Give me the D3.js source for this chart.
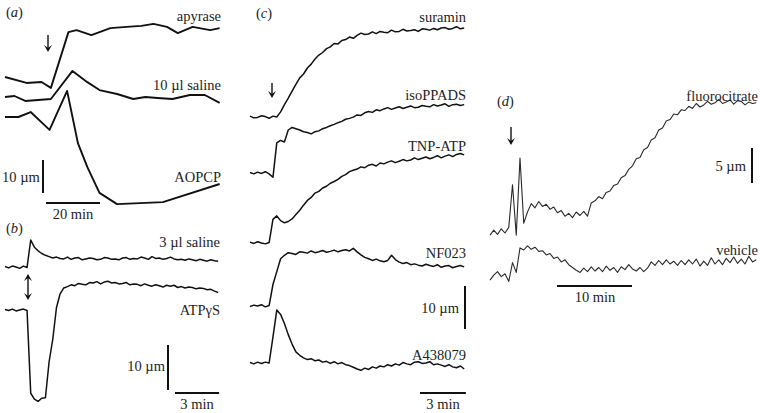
<!DOCTYPE html>
<html><head><meta charset="utf-8">
<script src="https://cdn.jsdelivr.net/npm/d3@7"></script>
<style>
body{margin:0;background:#fff}
text{font-family:"Liberation Serif","Times New Roman",serif;font-size:14.5px;fill:#1e1e1e}
</style>
</head><body>
<svg id="chart" width="760" height="413"></svg>
<script>
// ---------------- DATA ----------------
// Panel (a): time (min) and diameter change (µm), sparse samples
const aApyraseT = [0, 8, 13.5, 17, 23.5, 26.5, 32, 39, 45, 50.5, 55, 60, 64, 69.5, 76, 79.5];
const aApyraseV = [0, -1.8, -1.5, -3.3, 13.6, 14.2, 12.7, 14.8, 15.2, 15.5, 16.1, 15.2, 13.3, 15.2, 14.2, 14.8];
const aSalineT = [0, 3.5, 7.5, 17, 25, 30.5, 35, 41.5, 47.5, 52, 56.5, 62, 68.5, 74, 79.5];
const aSalineV = [0, 0.3, -1.2, -0.6, 7.9, 4.5, 2.1, 0.9, -0.6, 0, -0.3, -0.6, 0.6, 0.6, -1.8];
const aAopcpT = [0, 5, 9.5, 16.5, 23, 27, 30.5, 35, 41.5, 58.5, 79.5];
const aAopcpV = [0, 0, 1.5, -3.9, 7.9, -7.9, -15.2, -23.0, -26.4, -25.8, -20.3];

// Panel (b): sampled every 0.25 min (µm)
const bStep = 0.25;
const bSaline3 = [0.1,-0.2,0.2,0.0,-0.3,0.2,-0.1,6.0,4.4,3.6,3.0,2.6,2.3,2.0,2.2,1.9,1.8,2.2,1.7,2.0,2.1,1.6,1.8,2.0,1.9,1.6,1.7,2.1,2.0,1.7,1.8,1.6,2.0,2.1,1.7,1.9,1.8,2.2,2.0,1.7,2.3,1.9,2.0,1.7,1.9,2.2,1.8,1.6,1.7,1.5,1.8,1.6,1.4,1.7,1.5,1.3,1.6,1.4,1.3];
const bATPgS = [0.1,-0.1,0.2,-0.2,0.0,0.2,-0.1,-18.5,-19.8,-20.3,-19.6,-19.5,-11.5,-6.5,0.5,3.6,4.9,5.2,5.6,5.4,5.9,5.7,5.6,6.1,6.0,6.3,5.8,6.2,6.4,6.0,6.1,5.8,5.9,6.1,5.6,5.8,5.7,5.4,5.8,5.5,5.3,5.6,5.4,5.1,5.5,5.3,5.5,5.0,5.2,4.9,5.1,5.0,4.7,4.9,4.8,4.5,4.6,4.2,3.9];

// Panel (c): sampled every 0.25 min (µm)
const cStep = 0.25;
const cSuramin = [0.2,-0.2,-0.1,0.3,0.1,-0.3,0.2,0.0,1.2,2.9,4.4,6.0,7.6,9.1,10.0,11.4,12.3,13.5,14.4,15.0,15.9,16.3,17.1,17.0,17.8,18.0,18.6,18.3,19.0,19.5,19.2,19.3,19.8,19.4,19.9,19.7,19.6,20.2,19.8,19.9,20.4,20.0,20.1,20.3,19.9,20.5,20.4,20.2,20.6,20.3,20.7,20.8,20.4,20.6,21.0,20.5,20.7];
const cIsoPPADS = [0.1,-0.2,0.2,-0.1,0.3,-0.2,-1.0,7.0,7.6,7.2,10.0,10.6,10.3,10.0,9.6,9.4,9.1,9.6,9.8,10.3,10.6,11.0,11.3,11.7,12.0,12.5,12.7,13.0,13.5,13.4,14.0,14.3,14.1,14.7,14.5,14.9,15.2,14.8,15.1,15.4,15.0,15.3,15.6,15.2,15.3,15.7,15.5,15.4,15.9,15.6,15.8,16.1,15.5,15.9,16.0,15.7,15.9];
const cTNPATP = [0.2,-0.1,0.3,0.0,-0.2,0.1,5.5,6.3,5.2,4.7,5.0,5.6,6.6,7.6,8.8,9.9,10.6,11.6,12.0,12.8,13.2,13.9,14.3,14.8,15.5,15.9,16.6,16.9,17.2,17.7,17.5,18.1,18.3,17.9,18.6,18.4,18.8,19.1,18.7,19.0,19.4,19.1,19.3,19.8,19.4,19.7,20.0,19.6,19.9,20.3,19.8,20.2,20.5,20.1,20.6,20.8,20.5];
const cNF023 = [-0.1,0.2,0.0,0.3,-0.2,0.1,5.0,8.0,11.0,11.8,12.4,12.2,12.0,12.6,12.5,12.3,12.8,12.4,12.6,12.9,12.5,12.7,13.0,12.6,12.9,13.1,12.8,13.4,12.6,11.9,11.3,11.0,10.6,10.9,10.5,10.3,10.6,11.8,10.8,10.2,9.9,10.1,9.6,9.8,9.5,9.3,9.7,9.4,9.2,9.6,9.0,9.3,9.4,8.9,9.2,9.4,9.1];
const cA438079 = [0.1,-0.2,0.2,-0.1,0.2,0.0,6.0,12.3,11.3,9.2,6.6,4.4,2.6,1.8,1.2,0.8,1.0,0.5,0.7,0.2,0.4,-0.1,0.3,-0.2,0.1,-0.4,-0.6,-1.0,-1.4,-1.7,-1.2,-1.5,-0.9,-1.2,-0.7,-0.9,-0.4,-0.7,-0.2,-0.5,0.1,-0.2,-0.4,0.2,0.3,-0.1,0.0,0.3,-0.4,-0.2,-0.5,-0.8,-0.4,-0.9,-1.1,-0.7,-1.4];

// Panel (d): sampled every 0.5 min (µm)
const dStep = 0.5;
const dFluorocitrate = [-0.3,0.4,-0.2,0.6,0.0,0.8,6.9,-0.3,10.7,1.4,3.0,4.2,3.6,4.5,3.8,4.1,3.4,3.7,2.9,3.2,2.4,2.8,2.2,3.0,2.5,3.1,2.4,4.3,4.6,5.2,4.9,5.8,6.0,6.8,7.0,7.9,8.2,9.1,9.6,10.6,10.8,11.9,12.2,13.3,13.6,14.7,15.0,16.0,16.2,17.0,16.9,17.6,17.5,18.1,17.8,18.5,18.0,18.3,18.8,18.4,18.6,19.1,18.5,18.7,19.0,18.4,18.9,18.8,18.3,18.7,18.5,18.6];
const dVehicle = [-0.3,0.4,0.9,0.2,0.6,-0.5,2.2,0.8,4.3,4.0,4.6,4.1,4.4,3.8,3.9,3.3,3.5,2.8,3.0,2.3,2.6,1.9,1.5,1.1,0.8,1.4,0.9,1.6,1.0,1.5,0.9,1.7,1.1,1.5,0.8,1.6,1.2,1.9,1.3,1.0,1.5,0.9,1.4,2.3,1.8,2.5,1.9,2.6,2.0,2.4,1.8,2.5,1.9,2.6,2.0,2.7,1.7,2.4,1.8,2.9,2.0,2.6,1.9,2.8,2.2,3.0,2.1,2.7,2.0,3.1,2.3,2.6];

// scale-bar values
const scaleBars = {
  a: {um: 10, min: 20, umLabel: "10 µm", minLabel: "20 min"},
  b: {um: 10, min: 3, umLabel: "10 µm", minLabel: "3 min"},
  c: {um: 10, min: 3, umLabel: "10 µm", minLabel: "3 min"},
  d: {um: 5, min: 10, umLabel: "5 µm", minLabel: "10 min"}
};

// ---------------- LAYOUT ----------------
const svg = d3.select("#chart");
const panels = {
  a: {x0: 5, ppm: 2.7, ppu: 3.3, T: 80},
  b: {x0: 5, ppm: 14.7, ppu: 4.5, T: 14.5},
  c: {x0: 250, ppm: 15.3, ppu: 4.3, T: 14},
  d: {x0: 490, ppm: 7.5, ppu: 7.0, T: 35.5}
};
Object.values(panels).forEach(p => {
  p.x = d3.scaleLinear().domain([0, p.T]).range([p.x0, p.x0 + p.T * p.ppm]);
  p.yFor = base => d3.scaleLinear().domain([0, 10]).range([base, base - 10 * p.ppu]);
});

function trace(p, base, times, vals, opt) {
  const y = p.yFor(base);
  const pts = vals.map((v, i) => [times ? times[i] : i * opt.step, v]);
  svg.append("path")
    .attr("d", d3.line().x(d => p.x(d[0])).y(d => y(d[1]))(pts))
    .attr("fill", "none")
    .attr("stroke", opt.color || "#111")
    .attr("stroke-width", opt.width || 1.5)
    .attr("stroke-linejoin", "round");
}

function label(x, y, txt, anchor) {
  svg.append("text").attr("x", x).attr("y", y).attr("text-anchor", anchor || "end").text(txt);
}
function panelLabel(x, y, letter) {
  const t = svg.append("text").attr("x", x).attr("y", y);
  t.append("tspan").text("(");
  t.append("tspan").attr("font-style", "italic").text(letter);
  t.append("tspan").text(")");
}
function downArrow(x, y1, y2) {
  svg.append("line").attr("x1", x).attr("x2", x).attr("y1", y1).attr("y2", y2 - 4)
    .attr("stroke", "#111").attr("stroke-width", 1.4);
  svg.append("path").attr("d", `M${x-4},${y2-7} L${x},${y2} L${x+4},${y2-7} L${x},${y2-4}Z`).attr("fill", "#111");
}
function doubleArrow(x, y1, y2) {
  svg.append("line").attr("x1", x).attr("x2", x).attr("y1", y1 + 4).attr("y2", y2 - 4)
    .attr("stroke", "#111").attr("stroke-width", 1.4);
  svg.append("path").attr("d", `M${x-4},${y2-7} L${x},${y2} L${x+4},${y2-7} L${x},${y2-4}Z`).attr("fill", "#111");
  svg.append("path").attr("d", `M${x-4},${y1+7} L${x},${y1} L${x+4},${y1+7} L${x},${y1+4}Z`).attr("fill", "#111");
}
function vBar(p, x, yBottom, um) {
  const y = p.yFor(yBottom);
  svg.append("line").attr("x1", x).attr("x2", x).attr("y1", y(0)).attr("y2", y(um))
    .attr("stroke", "#111").attr("stroke-width", 2);
}
function hBar(p, xStart, y, min) {
  const len = p.x(min) - p.x(0);
  svg.append("line").attr("x1", xStart).attr("x2", xStart + len).attr("y1", y).attr("y2", y)
    .attr("stroke", "#111").attr("stroke-width", 2);
}

// ----- Panel (a)
const pa = panels.a;
panelLabel(6, 17, "a");
trace(pa, 77, aApyraseT, aApyraseV, {width: 1.9});
trace(pa, 97, aSalineT, aSalineV, {width: 1.9});
trace(pa, 117, aAopcpT, aAopcpV, {width: 1.9});
label(221, 21, "apyrase");
label(221, 90, "10 µl saline");
label(221, 182, "AOPCP");
downArrow(48, 35, 52);
vBar(pa, 43, 193, scaleBars.a.um);
label(2, 182, scaleBars.a.umLabel, "start");
hBar(pa, 46, 203, scaleBars.a.min);
label(73, 219, scaleBars.a.minLabel, "middle");

// ----- Panel (b)
const pb = panels.b;
panelLabel(6, 233, "b");
trace(pb, 267, null, bSaline3, {step: bStep});
trace(pb, 310, null, bATPgS, {step: bStep});
label(220, 247, "3 µl saline");
label(220, 315, "ATPγS");
doubleArrow(28, 274, 300);
vBar(pb, 168, 390, scaleBars.b.um);
label(165, 371, scaleBars.b.umLabel);
hBar(pb, 175, 393, scaleBars.b.min);
label(197, 409, scaleBars.b.minLabel, "middle");

// ----- Panel (c)
const pc = panels.c;
panelLabel(256, 18, "c");
trace(pc, 117, null, cSuramin, {step: cStep});
trace(pc, 173, null, cIsoPPADS, {step: cStep});
trace(pc, 243, null, cTNPATP, {step: cStep});
trace(pc, 306, null, cNF023, {step: cStep});
trace(pc, 363, null, cA438079, {step: cStep});
label(466, 22, "suramin");
label(466, 100, "isoPPADS");
label(466, 151, "TNP-ATP");
label(466, 258, "NF023");
label(466, 360, "A438079");
downArrow(272, 83, 98);
vBar(pc, 465, 329, scaleBars.c.um);
label(459, 313, scaleBars.c.umLabel);
hBar(pc, 420, 393, scaleBars.c.min);
label(443, 409, scaleBars.c.minLabel, "middle");

// ----- Panel (d)
const pd = panels.d;
panelLabel(497, 106, "d");
trace(pd, 233, null, dFluorocitrate, {step: dStep, width: 1.1, color: "#2a2a2a"});
trace(pd, 278, null, dVehicle, {step: dStep, width: 1.1, color: "#2a2a2a"});
label(758, 101, "fluorocitrate");
label(758, 255, "vehicle");
downArrow(511, 127, 145);
vBar(pd, 752, 183, scaleBars.d.um);
label(746, 171, scaleBars.d.umLabel);
hBar(pd, 557, 286, scaleBars.d.min);
label(595, 302, scaleBars.d.minLabel, "middle");
</script>
</body></html>
